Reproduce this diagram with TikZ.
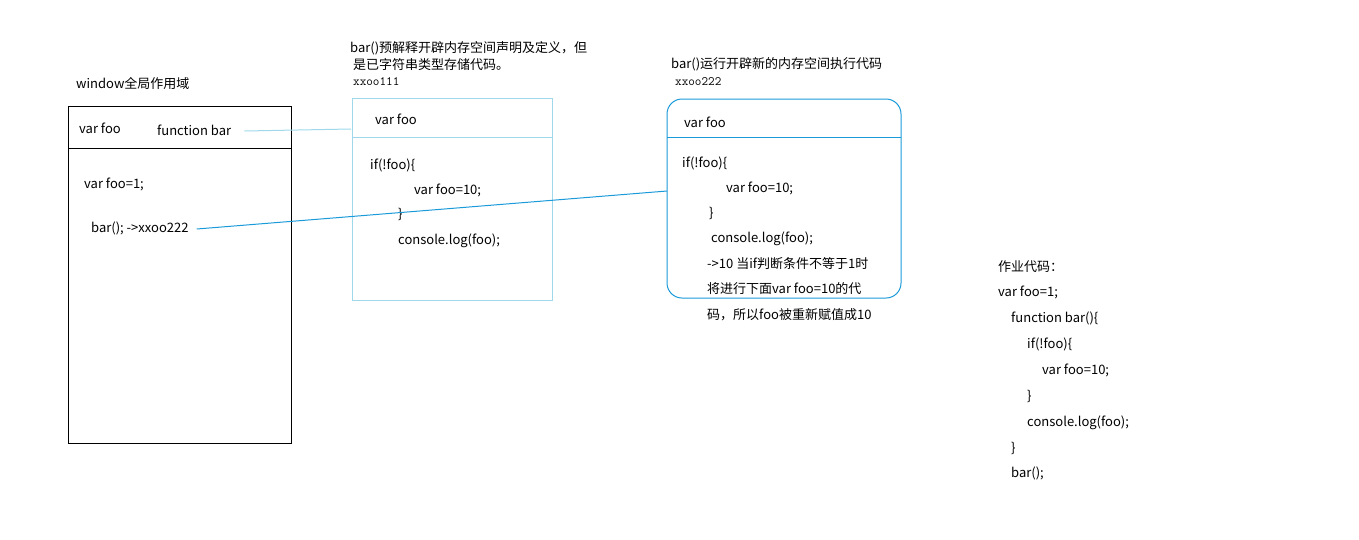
\documentclass[tikz,border=0pt]{standalone}
\usepackage{fontspec}
\setmainfont{Noto Sans CJK SC}
\definecolor{lightln}{HTML}{9ED8EA}
\definecolor{darkln}{HTML}{1A9AD8}
\begin{document}
\begin{tikzpicture}[x=1pt,y=-1pt,
  txt/.style={anchor=base west,inner sep=0pt,font=\fontsize{13}{15}\selectfont},
  mono/.style={anchor=base west,inner sep=0pt,font=\ttfamily\fontsize{12.8}{14}\selectfont},
  box/.style={anchor=north west,inner sep=0pt,outer sep=0pt}]
\useasboundingbox (0,0) rectangle (1359,539);
% window box
\node[box,draw=black,line width=1pt,minimum width=223pt,minimum height=337pt] (win) at (68,106) {};
\draw[black,line width=1pt] (68,148) -- (291,148);
\node[txt] (wt) at (76,88) {window全局作用域};
\node[txt] (wfoo) at (79,133) {var foo};
\node[txt] (wbar) at (157,135) {function bar};
\node[txt] (wfoo1) at (84,188) {var foo=1;};
\node[txt] (wcall) at (91,232) {bar(); ->xxoo222};
% box 2
\node[box,draw=lightln,line width=1pt,minimum width=200pt,minimum height=202pt] (b2) at (352,98) {};
\draw[lightln,line width=1pt] (352,137) -- (552,137);
\node[txt] (b2l1) at (350,52) {bar()预解释开辟内存空间声明及定义，但};
\node[txt] (b2l2) at (353,69) {是已字符串类型存储代码。};
\node[mono] (b2id) at (353,85) {xxoo111};
\node[txt] (b2foo) at (375,124) {var foo};
\node[txt] (b2if) at (370,169) {if(!foo)\{};
\node[txt] (b2v) at (414,194) {var foo=10;};
\node[txt] (b2c) at (398,218) {\}};
\node[txt] (b2log) at (398,244) {console.log(foo);};
% box 3
\node[box,draw=darkln,line width=1pt,rounded corners=15pt,minimum width=234pt,minimum height=199pt] (b3) at (667,99) {};
\draw[darkln,line width=1pt] (667,137) -- (901,137);
\node[txt] (b3l1) at (671,68) {bar()运行开辟新的内存空间执行代码};
\node[mono] (b3id) at (675,85) {xxoo222};
\node[txt] (b3foo) at (684,127) {var foo};
\node[txt] (b3if) at (682,167) {if(!foo)\{};
\node[txt] (b3v) at (726,192) {var foo=10;};
\node[txt] (b3c) at (709,217) {\}};
\node[txt] (b3log) at (711,242) {console.log(foo);};
\node[txt] (b3n1) at (707,268) {->10 当if判断条件不等于1时};
\node[txt] (b3n2) at (707,293) {将进行下面var foo=10的代};
\node[txt] (b3n3) at (707,319) {码，所以foo被重新赋值成10};
% connectors
\coordinate (c1) at (351,129);
\coordinate (c2) at (667,191);
\draw[lightln,line width=1pt] ([xshift=13pt,yshift=4pt]wbar.base east) -- (c1);
\draw[darkln,line width=1pt] ([xshift=8pt,yshift=3pt]wcall.base east) -- (c2);
% homework code
\node[txt] (h0) at (998,271) {作业代码：};
\node[txt] (h1) at (998,296) {var foo=1;};
\node[txt] (h2) at (1011,322) {function bar()\{};
\node[txt] (h3) at (1027,348) {if(!foo)\{};
\node[txt] (h4) at (1042,374) {var foo=10;};
\node[txt] (h5) at (1027,400) {\}};
\node[txt] (h6) at (1027,426) {console.log(foo);};
\node[txt] (h7) at (1011,452) {\}};
\node[txt] (h8) at (1011,477) {bar();};
\end{tikzpicture}
\end{document}
